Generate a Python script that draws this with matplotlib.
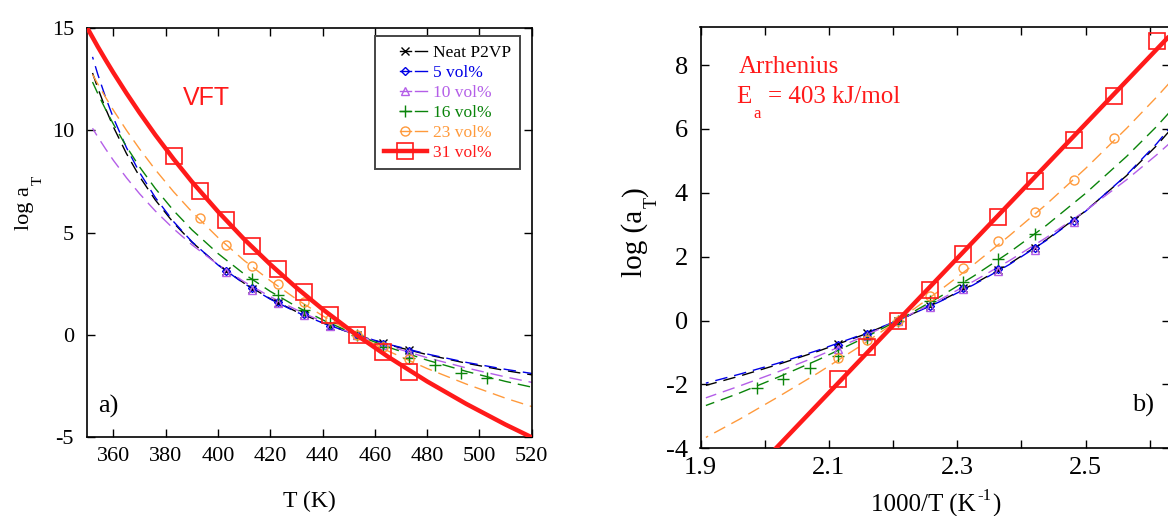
import numpy as np
import matplotlib
matplotlib.use("Agg")
import matplotlib.pyplot as plt
from matplotlib.lines import Line2D
from matplotlib.legend_handler import HandlerTuple
from matplotlib.ticker import MultipleLocator, FormatStrFormatter

plt.rcParams["font.family"] = ["Liberation Serif", "DejaVu Serif"]
plt.rcParams["axes.unicode_minus"] = False

# ---------------------------------------------------------------- data
LABELS = ["Neat P2VP", "5 vol%", "10 vol%", "16 vol%", "23 vol%", "31 vol%"]

# measured shift factors, log a_T, at temperature T (K); reference 453 K
T_NEAT = [403, 413, 423, 433, 443, 453, 463, 473]
LOG_AT_NEAT = [3.14, 2.27, 1.57, 1.01, 0.44, 0.0, -0.39, -0.75]
T_5 = [403, 413, 423, 433, 443, 453, 463, 473]
LOG_AT_5 = [3.13, 2.28, 1.60, 1.03, 0.45, 0.0, -0.42, -0.78]
T_10 = [403, 413, 423, 433, 443, 453, 463, 473]
LOG_AT_10 = [3.10, 2.20, 1.55, 0.98, 0.42, 0.0, -0.48, -0.88]
T_16 = [413, 423, 433, 443, 453, 463, 473, 483, 493, 503]
LOG_AT_16 = [2.72, 1.94, 1.22, 0.60, 0.0, -0.57, -1.12, -1.49, -1.84, -2.11]
T_23 = [393, 403, 413, 423, 433, 443, 453, 463, 473]
LOG_AT_23 = [5.70, 4.40, 3.39, 2.49, 1.63, 0.77, 0.0, -0.60, -1.18]
T_31 = [383, 393, 403, 413, 423, 433, 443, 453, 463, 473]
LOG_AT_31 = [8.76, 7.03, 5.64, 4.36, 3.23, 2.09, 0.97, 0.0, -0.83, -1.82]

# VFT fit curves
T_FIT = [352, 354, 357, 360, 365, 370, 376, 383, 390, 400,
         410, 420, 430, 440, 453, 465, 480, 495, 510, 524]
FIT_NEAT = [12.80, 12.07, 11.06, 10.16, 8.86, 7.74, 6.60, 5.48, 4.54, 3.43,
            2.53, 1.77, 1.14, 0.60, 0.0, -0.47, -0.96, -1.38, -1.74, -2.03]
FIT_5 = [13.59, 12.74, 11.61, 10.60, 9.15, 7.94, 6.72, 5.54, 4.56, 3.42,
         2.51, 1.75, 1.12, 0.59, 0.0, -0.45, -0.93, -1.34, -1.68, -1.96]
FIT_10 = [10.10, 9.68, 9.09, 8.53, 7.68, 6.90, 6.06, 5.19, 4.41, 3.44,
          2.60, 1.87, 1.23, 0.65, 0.0, -0.53, -1.11, -1.61, -2.05, -2.42]
FIT_16 = [12.36, 11.80, 11.02, 10.30, 9.20, 8.21, 7.16, 6.08, 5.14, 3.98,
          2.98, 2.13, 1.39, 0.74, 0.0, -0.59, -1.23, -1.78, -2.27, -2.66]
FIT_23 = [12.73, 12.27, 11.61, 10.98, 10.00, 9.09, 8.08, 7.00, 6.02, 4.76,
          3.64, 2.65, 1.75, 0.94, 0.0, -0.78, -1.64, -2.40, -3.09, -3.66]
T_FIT_31 = [350, 354, 357, 360, 365, 370, 376, 383, 390, 400,
            410, 420, 430, 440, 453, 465, 480, 495, 510, 520]
FIT_31 = [15.0, 14.09, 13.44, 12.81, 11.81, 10.86, 9.78, 8.60, 7.49, 6.03,
          4.68, 3.45, 2.31, 1.26, 0.0, -1.06, -2.27, -3.37, -4.38, -5.0]

# Arrhenius line for the 31 vol% sample
EA_KJ_MOL = 403
T_REF = 453
R_GAS = 8.314

# ---------------------------------------------------------------- style
BLACK = "#000000"
BLUE = "#0000e6"
PURPLE = "#b45ee8"
GREEN = "#0a840a"
ORANGE = "#ff9a3c"
RED = "#ff1a1a"
COLORS = [BLACK, BLUE, PURPLE, GREEN, ORANGE, RED]

MARKERS = [
    dict(marker="x", ms=6, mew=1.0),
    dict(marker="D", ms=4.5, mew=1.0, mfc="none"),
    dict(marker="^", ms=6, mew=1.0, mfc="none"),
    dict(marker="+", ms=8, mew=1.0),
    dict(marker="o", ms=6.5, mew=1.0, mfc="none"),
    dict(marker="s", ms=11, mew=1.2, mfc="none"),
]
DASH = (9, 5)
DASH_OFFSETS = [0, 7, 3, 0, 0]

W_PX, H_PX = 1168, 516
SERIF = "Liberation Serif"

fig = plt.figure(figsize=(W_PX / 100, H_PX / 100), dpi=100)
fig.patch.set_facecolor("white")
renderer = fig.canvas.get_renderer()


def axes_px(left, top, right, bottom):
    return fig.add_axes([left / W_PX, 1 - bottom / H_PX,
                         (right - left) / W_PX, (bottom - top) / H_PX])


def fig_text(x_px, y_px, s, **kw):
    kw.setdefault("ha", "left")
    kw.setdefault("va", "baseline")
    return fig.text(x_px / W_PX, 1 - y_px / H_PX, s, **kw)


def text_run(x_px, y_px, pieces, rotation=0, **kw):
    """Lay out (text, size, baseline drop, gap) pieces one after another."""
    pos = 0.0
    for s, size, drop, gap in pieces:
        pos += gap
        if rotation == 0:
            x, y = x_px + pos, y_px + drop
        else:
            x, y = x_px + drop, y_px - pos
        t = fig_text(x, y, s, fontsize=size, rotation=rotation,
                     rotation_mode="anchor", **kw)
        bb = t.get_window_extent(renderer)
        pos += bb.width if rotation == 0 else bb.height


def style_axes(ax, size, ypad, xpad):
    for sp in ax.spines.values():
        sp.set_linewidth(1.2)
    ax.tick_params(which="both", direction="in", top=True, right=True,
                   length=6, width=1.0, labelsize=size)
    ax.tick_params(axis="y", which="both", pad=ypad)
    ax.tick_params(axis="x", which="both", pad=xpad)


marker_sets = [(T_NEAT, LOG_AT_NEAT), (T_5, LOG_AT_5), (T_10, LOG_AT_10),
               (T_16, LOG_AT_16), (T_23, LOG_AT_23), (T_31, LOG_AT_31)]
fit_sets = [FIT_NEAT, FIT_5, FIT_10, FIT_16, FIT_23]

# ================================================================ panel a
ax1 = axes_px(87.3, 28.0, 531.7, 437.3)
t_fit = np.array(T_FIT, float)
for vals, col, off in zip(fit_sets, COLORS, DASH_OFFSETS):
    ax1.plot(t_fit, vals, color=col, lw=1.0, ls=(off, DASH),
             dash_capstyle="butt")
ax1.plot(T_FIT_31, FIT_31, color=RED, lw=3.2, solid_capstyle="butt", zorder=4)
for (tt, vv), col, mk in zip(marker_sets, COLORS, MARKERS):
    ax1.plot(tt, vv, ls="none", color=col, zorder=5 if col == RED else 3, **mk)

ax1.set_xlim(350, 520)
ax1.set_ylim(-5, 15)
ax1.xaxis.set_major_locator(MultipleLocator(20))
ax1.yaxis.set_major_locator(MultipleLocator(5))
style_axes(ax1, 16, 9.5, 7)

# legend: short solid stub through the marker followed by a dash
blank = Line2D([], [], color="none", lw=0)
handles = []
for col, mk in zip(COLORS[:5], MARKERS[:5]):
    stub = Line2D([], [], color=col, lw=1.0, **mk)
    dash = Line2D([], [], color=col, lw=1.0)
    handles.append((blank, stub, dash))
handles.append(Line2D([], [], color=RED, lw=3.2, **MARKERS[5]))
ax_w, ax_h = 531.7 - 87.3, 437.3 - 28.0
leg = ax1.legend(handles, LABELS, loc="upper right",
                 bbox_to_anchor=(1 - 12.2 / ax_w, 1 - 8.0 / ax_h),
                 borderaxespad=0, frameon=True, fancybox=False,
                 framealpha=1, edgecolor="#454545",
                 prop={"family": SERIF, "size": 12.5},
                 handlelength=2.45, handletextpad=0.35, labelspacing=0.22,
                 borderpad=0.5, numpoints=1,
                 handler_map={tuple: HandlerTuple(ndivide=None, pad=0.25)})
leg.get_frame().set_linewidth(1.4)
leg.set_zorder(10)
for txt, col in zip(leg.get_texts(), COLORS):
    txt.set_color(col)

# ================================================================ panel b
ax2 = axes_px(700.5, 26.7, 1170.0, 448.3)
inv_fit = 1000.0 / t_fit
for vals, col, off in zip(fit_sets, COLORS, DASH_OFFSETS):
    ax2.plot(inv_fit, vals, color=col, lw=1.0, ls=(off, DASH),
             dash_capstyle="butt")

slope = EA_KJ_MOL * 1000.0 / (np.log(10) * R_GAS) / 1000.0  # per unit of 1000/T
x_line = np.array([1.9, 2.7])
ax2.plot(x_line, slope * (x_line - 1000.0 / T_REF), color=RED, lw=3.2,
         solid_capstyle="butt", zorder=4)
for (tt, vv), col, mk in zip(marker_sets, COLORS, MARKERS):
    ax2.plot(1000.0 / np.array(tt, float), vv, ls="none", color=col,
             zorder=5 if col == RED else 3, **mk)

ax2.set_xlim(1.9, 1.9 + 469.5 / 641.7)
ax2.set_ylim(-4, 9.2)
ax2.xaxis.set_major_locator(MultipleLocator(0.2, offset=0.1))
ax2.xaxis.set_minor_locator(MultipleLocator(0.1))
ax2.xaxis.set_major_formatter(FormatStrFormatter("%.1f"))
ax2.yaxis.set_major_locator(MultipleLocator(2))
style_axes(ax2, 19, 9, 6)

# ================================================================ text
# panel a
fig_text(309.5, 506.7, "T (K)", fontsize=17, ha="center", family=SERIF)
text_run(29.3, 230.0, [("log a", 16, 0, 0), ("T", 11, 12.4, 1)],
         rotation=90, family=SERIF)
fig_text(182.7, 105.0, "VFT", fontsize=18, color=RED, family="Liberation Sans")
fig_text(98.3, 413.0, "a)", fontsize=19, family=SERIF)

# panel b
text_run(871.0, 511.7, [("1000/T (K", 18, 0, 0), ("-1", 12, -11.7, 2),
                        (")", 18, 0, 1)], family=SERIF)
text_run(641.7, 276.7, [("log (a", 21, 0, 0), ("T", 13, 15.0, 1),
                        (")", 21, 0, 1)], rotation=90, family=SERIF)
fig_text(738.3, 73.3, "Arrhenius", fontsize=18, color=RED, family=SERIF)
text_run(736.7, 103.3, [("E", 18, 0, 0), ("a", 12, 15.0, 1),
                        ("= " + str(EA_KJ_MOL) + " kJ/mol", 18, 0, 8)],
         color=RED, family=SERIF)
fig_text(1131.7, 412.0, "b)", fontsize=19, family=SERIF)

fig.savefig("out.png", dpi=100, facecolor="white")
